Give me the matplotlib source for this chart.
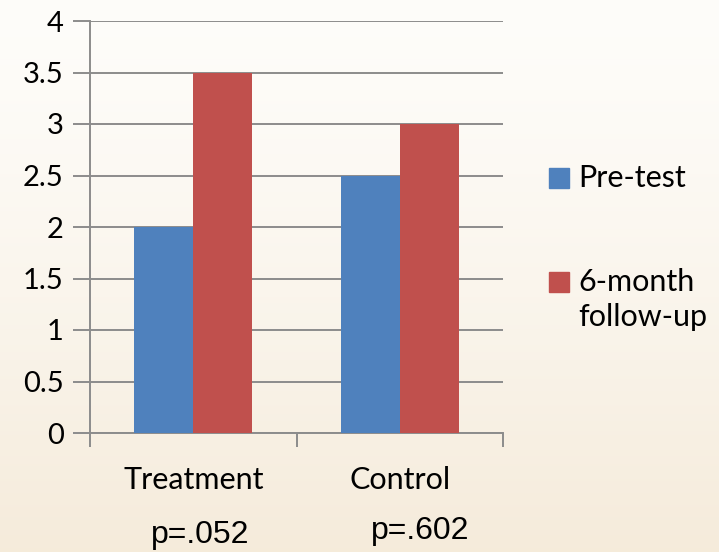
import numpy as np
import matplotlib
matplotlib.use('Agg')
import matplotlib.pyplot as plt
from matplotlib.patches import Rectangle

# data
groups = ['Treatment', 'Control']
pre_test = [2.0, 2.5]
follow_up = [3.5, 3.0]
p_values = ['p=.052', 'p=.602']
series_names = ['Pre-test', '6-month\nfollow-up']
colors = ['#4f81bd', '#c0504d']

plt.rcParams['font.family'] = ['Lato', 'DejaVu Sans']

fig = plt.figure(figsize=(7.19, 5.52), dpi=100)
W, H = 719, 552

# beige gradient background
bg = fig.add_axes([0, 0, 1, 1])
grad = np.linspace(0, 1, 256).reshape(-1, 1)
top = np.array([0.996, 0.992, 0.980])
bot = np.array([0.962, 0.922, 0.858])
img = top + (bot - top) * grad[..., None] ** 1.3
bg.imshow(img, aspect='auto', extent=[0, 1, 0, 1], origin='upper')
bg.axis('off')

# axes: x 90..503 px, y 21..433 px
ax = fig.add_axes([90 / W, (H - 433) / H, (503 - 90) / W, (433 - 21) / H])
ax.patch.set_alpha(0)

x = np.arange(len(groups))
bw = 0.285
ax.bar(x - bw / 2, pre_test, bw, color=colors[0], zorder=3)
ax.bar(x + bw / 2, follow_up, bw, color=colors[1], zorder=3)

ax.set_xlim(-0.5, 1.5)
ax.set_ylim(0, 4)
ax.set_yticks(np.arange(0, 4.01, 0.5))
ax.set_yticklabels(['0', '0.5', '1', '1.5', '2', '2.5', '3', '3.5', '4'])
ax.yaxis.grid(True, color='#8c8c8c', linewidth=1.4, zorder=0)

for s in ['top', 'right']:
    ax.spines[s].set_visible(False)
for s in ['left', 'bottom']:
    ax.spines[s].set_color('#8c8c8c')
    ax.spines[s].set_linewidth(1.4)

ax.tick_params(axis='y', length=12, width=1.4, color='#8c8c8c', labelsize=21, pad=7)
ax.set_xticks([-0.5, 0.5, 1.5])
ax.set_xticklabels([])
ax.tick_params(axis='x', length=10, width=1.4, color='#8c8c8c')
ax.set_xticks(x, minor=True)
ax.set_xticklabels(groups, minor=True)
ax.tick_params(axis='x', which='minor', length=0, labelsize=22, pad=24)

# p-values under the groups
p_pos = [(200, 535), (420, 531)]
for (px, py), txt in zip(p_pos, p_values):
    fig.text(px / W, (H - py) / H, txt, fontsize=23, family=['Liberation Sans', 'DejaVu Sans'],
             ha='center', va='center')

# legend, drawn by hand
leg_y = [178, 282]
for yy, c, name in zip(leg_y, colors, series_names):
    fig.patches.append(Rectangle((549 / W, (H - yy - 10) / H), 20 / W, 20 / H,
                                 color=c, transform=fig.transFigure))
    fig.text(578 / W, (H - yy) / H + 0.026, name, fontsize=22, ha='left', va='top',
             linespacing=1.3)

fig.savefig('out.png', dpi=100)
